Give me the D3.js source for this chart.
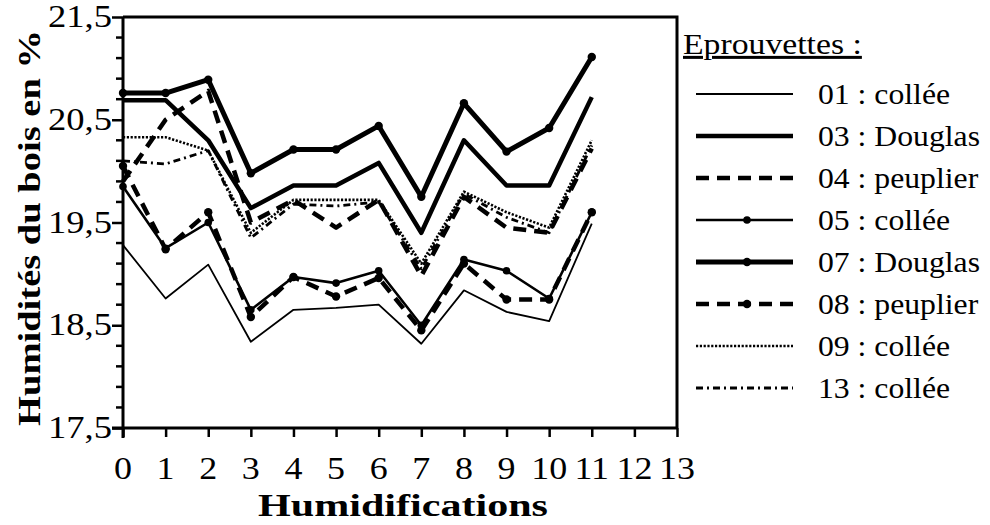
<!DOCTYPE html>
<html>
<head>
<meta charset="utf-8">
<script src="https://cdn.jsdelivr.net/npm/d3@7"></script>
<style>
  html, body { margin: 0; padding: 0; background: #fff; }
  svg { display: block; }
</style>
</head>
<body>
<svg id="chart" width="990" height="525"></svg>
<script>
// Humidification cycles (x) and tick labels
const xTickValues = d3.range(0, 14);
const humidifications = d3.range(0, 12);
const yTickValues = [17.5, 18.5, 19.5, 20.5, 21.5];
const yTickLabels = ["17,5", "18,5", "19,5", "20,5", "21,5"];

// Wood moisture (%) for each specimen after each humidification
const s01 = [19.28, 18.76, 19.09, 18.34, 18.65, 18.67, 18.70, 18.32, 18.84, 18.63, 18.54, 19.49];
const s03 = [20.69, 20.69, 20.30, 19.64, 19.86, 19.86, 20.08, 19.40, 20.30, 19.86, 19.86, 20.72];
const s04 = [19.90, 20.50, 20.78, 19.50, 19.72, 19.45, 19.72, 18.98, 19.75, 19.45, 19.40, 20.22];
const s05 = [19.85, 19.25, 19.50, 18.65, 18.97, 18.91, 19.03, 18.50, 19.14, 19.03, 18.76, 19.60];
const s07 = [20.76, 20.76, 20.89, 19.98, 20.21, 20.21, 20.44, 19.75, 20.66, 20.19, 20.42, 21.11];
const s08 = [20.05, 19.24, 19.60, 18.58, 18.97, 18.78, 18.96, 18.45, 19.10, 18.75, 18.75, 19.60];
const s09 = [20.33, 20.33, 20.20, 19.40, 19.72, 19.72, 19.72, 19.10, 19.80, 19.60, 19.45, 20.30];
const s13 = [20.10, 20.07, 20.20, 19.35, 19.68, 19.66, 19.70, 19.05, 19.78, 19.55, 19.40, 20.25];

const seriesLabels = ["01 : collée", "03 : Douglas", "04 : peuplier", "05 : collée",
                      "07 : Douglas", "08 : peuplier", "09 : collée", "13 : collée"];

// Line style for each specimen
const series = [
  { label: seriesLabels[0], values: s01, width: 1.8, dash: null,      marker: 0   },
  { label: seriesLabels[1], values: s03, width: 4.5, dash: null,      marker: 0   },
  { label: seriesLabels[2], values: s04, width: 4.5, dash: "13,8",    marker: 0   },
  { label: seriesLabels[3], values: s05, width: 2.6, dash: null,      marker: 3.8 },
  { label: seriesLabels[4], values: s07, width: 5,   dash: null,      marker: 4.2 },
  { label: seriesLabels[5], values: s08, width: 4.5, dash: "13,8",    marker: 4.2 },
  { label: seriesLabels[6], values: s09, width: 2.6, dash: "2.2,1.6", marker: 0   },
  { label: seriesLabels[7], values: s13, width: 2.8, dash: "7,4,2,4", marker: 0   }
];

const svg = d3.select("#chart");
const FONT = "Liberation Serif, Tinos, Times New Roman, Times, serif";

const plot = { left: 123, right: 677, top: 17, bottom: 428 };
const x = d3.scaleLinear().domain([0, 13]).range([plot.left, plot.right]);
const y = d3.scaleLinear().domain([17.5, 21.5]).range([plot.bottom, plot.top]);

// Horizontal stretch that brings a sample string to a given width
function fitScale(sample, size, weight, width) {
  const t = svg.append("text")
    .attr("font-family", FONT).attr("font-size", size).attr("font-weight", weight)
    .text(sample);
  const w = t.node().getComputedTextLength();
  t.remove();
  return width / w;
}

function label(g, txt, px, py, o) {
  return g.append("text")
    .attr("transform", `translate(${px},${py}) rotate(${o.rotate || 0}) scale(${o.sx},1)`)
    .attr("text-anchor", o.anchor || "start")
    .attr("font-family", FONT)
    .attr("font-size", o.size)
    .attr("font-weight", o.weight || "normal")
    .attr("fill", "#000")
    .text(txt);
}

const tickStyle   = { size: 31, sx: fitScale("21,5", 31, "normal", 64) };
const xTickStyle  = { size: 31, sx: fitScale("10", 31, "normal", 36), anchor: "middle" };
const legendStyle = { size: 30, sx: fitScale("03 : Douglas", 30, "normal", 162) };

// Series lines
const linesG = svg.append("g");
series.forEach(s => {
  const line = d3.line()
    .x((d, i) => x(humidifications[i]))
    .y(d => y(d));
  linesG.append("path")
    .datum(s.values)
    .attr("d", line)
    .attr("fill", "none")
    .attr("stroke", "#000")
    .attr("stroke-width", s.width)
    .attr("stroke-dasharray", s.dash)
    .attr("stroke-linejoin", "round");
  if (s.marker) {
    linesG.selectAll(null)
      .data(s.values)
      .enter().append("circle")
      .attr("cx", (d, i) => x(humidifications[i]))
      .attr("cy", d => y(d))
      .attr("r", s.marker)
      .attr("fill", "#000");
  }
});

// Frame (top and right borders)
svg.append("path")
  .attr("d", `M${plot.left},${plot.top}H${plot.right}V${plot.bottom}`)
  .attr("fill", "none").attr("stroke", "#000").attr("stroke-width", 3);

// Y axis with major and minor ticks
const yAxis = d3.axisLeft(y)
  .tickValues(yTickValues)
  .tickSize(11)
  .tickFormat((d, i) => yTickLabels[i]);
const yAxisG = svg.append("g").attr("transform", `translate(${plot.left},0)`).call(yAxis);
yAxisG.select(".domain").attr("stroke-width", 3).attr("d", `M0,${plot.top}V${plot.bottom + 10}`);
yAxisG.selectAll(".tick line").attr("stroke-width", 2.5);
yAxisG.selectAll(".tick text").remove();
const minor = d3.range(17.5, 21.5001, 0.2).filter(v => !yTickValues.some(t => Math.abs(t - v) < 1e-6));
yAxisG.selectAll(".minor").data(minor).enter().append("line")
  .attr("x1", -7).attr("x2", 0)
  .attr("y1", d => y(d)).attr("y2", d => y(d))
  .attr("stroke", "#000").attr("stroke-width", 2.5);
yTickValues.forEach((v, i) => {
  label(svg, yTickLabels[i], 112, y(v) + 10, Object.assign({ anchor: "end" }, tickStyle));
});

// X axis
const xAxis = d3.axisBottom(x).tickValues(xTickValues).tickSize(9).tickFormat("");
const xAxisG = svg.append("g").attr("transform", `translate(0,${plot.bottom})`).call(xAxis);
xAxisG.select(".domain").attr("stroke-width", 3).attr("d", `M${plot.left - 11},0H${plot.right}`);
xAxisG.selectAll(".tick line").attr("stroke-width", 2.5);
xTickValues.forEach(v => {
  label(svg, String(v), x(v), 479, xTickStyle);
});

// Axis titles
label(svg, "Humidifications", 403, 516, {
  anchor: "middle", size: 32, weight: "bold", sx: fitScale("Humidifications", 32, "bold", 290)
});
label(svg, "Humidités  du  bois  en  %", 40, 228, {
  anchor: "middle", size: 32, weight: "bold", rotate: -90,
  sx: fitScale("Humidités  du  bois  en  %", 32, "bold", 396)
});

// Legend
const legend = svg.append("g");
label(legend, "Eprouvettes :", 683, 54, { size: 30, sx: fitScale("Eprouvettes :", 30, "normal", 179) })
  .attr("text-decoration", "underline");
series.forEach((s, i) => {
  const ly = 94 + i * 42;
  legend.append("line")
    .attr("x1", 696).attr("x2", 793).attr("y1", ly).attr("y2", ly)
    .attr("stroke", "#000")
    .attr("stroke-width", s.width)
    .attr("stroke-dasharray", s.dash);
  if (s.marker) {
    legend.append("circle").attr("cx", 747).attr("cy", ly).attr("r", s.marker).attr("fill", "#000");
  }
  label(legend, s.label, 818, ly + 10, legendStyle);
});
</script>
</body>
</html>
